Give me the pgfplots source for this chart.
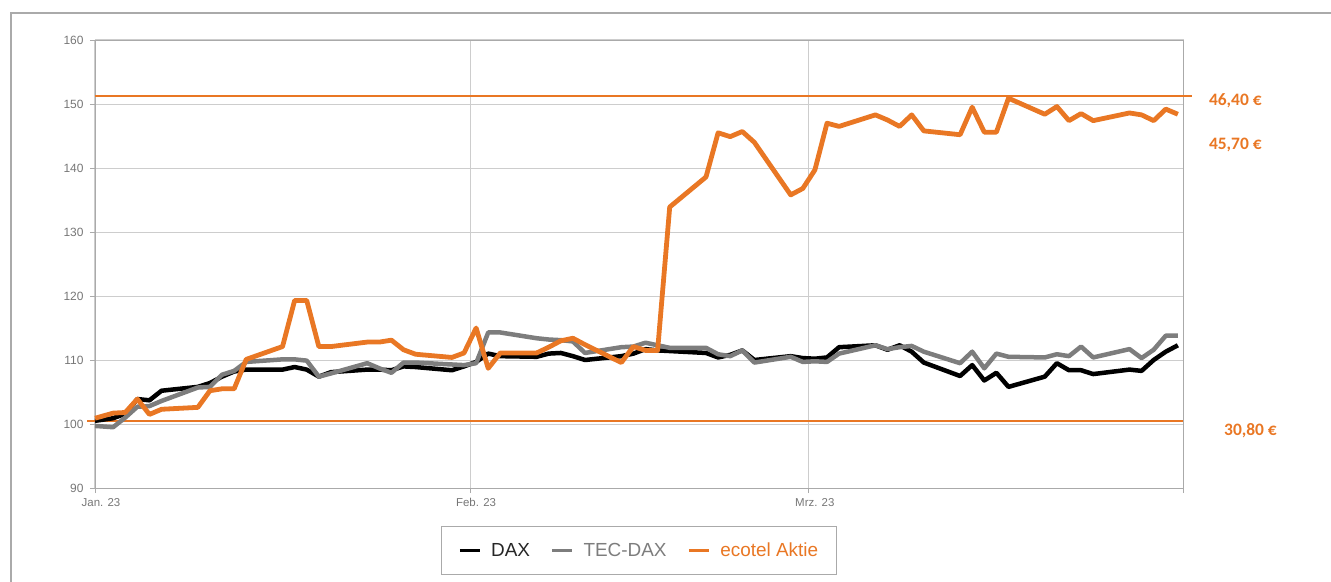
\documentclass[border=0pt]{standalone}
\usepackage{fontspec}
\setmainfont{Liberation Sans}
\newfontfamily\carlito{Carlito}
\usepackage{pgfplots}
\usepackage{pgfplotstable}
\pgfplotsset{compat=1.18}
\definecolor{eco}{RGB}{233,119,36}
\definecolor{tec}{RGB}{125,125,125}
\definecolor{dax}{RGB}{0,0,0}
\definecolor{tickgray}{RGB}{118,118,118}
\definecolor{gridc}{RGB}{205,205,205}
\definecolor{axisc}{RGB}{170,170,170}
\pgfplotstableread{
x dax tec eco
0 100.5 99.7 100.9
1.5 100.9 99.5 101.7
2.5 101.6 101.0 101.8
3.5 103.9 102.7 103.9
4.5 103.7 102.8 101.5
5.5 105.2 103.6 102.3
8.5 105.8 105.7 102.6
9.5 106.4 105.8 105.2
10.5 107.4 107.7 105.5
11.5 108.2 108.3 105.5
12.5 108.5 109.7 110.1
15.5 108.5 110.1 112.1
16.5 108.9 110.1 119.3
17.5 108.5 109.9 119.3
18.5 107.4 107.4 112.1
19.5 108.1 107.9 112.1
22.5 108.5 109.5 112.8
23.5 108.5 108.7 112.8
24.5 108.4 108.0 113.1
25.5 109.0 109.6 111.6
26.5 108.9 109.6 110.9
29.5 108.4 109.3 110.4
30.5 109.0 109.2 111.1
31.5 109.7 109.5 115.0
32.5 111.0 114.3 108.7
33.5 110.6 114.3 111.1
36.5 110.5 113.4 111.1
37.5 111.0 113.2 112.0
38.5 111.1 113.1 113.0
39.5 110.6 112.9 113.4
40.5 110.0 111.1 112.4
43.5 110.6 112.0 109.6
44.5 111.0 112.1 112.1
45.5 111.7 112.7 111.5
46.5 111.5 112.3 111.5
47.5 111.4 111.9 133.9
50.5 111.1 111.9 138.6
51.5 110.4 110.9 145.5
52.5 110.8 110.6 144.9
53.5 111.5 111.5 145.7
54.5 110.0 109.6 144.0
57.5 110.6 110.5 135.8
58.5 110.3 109.7 136.8
59.5 110.2 109.8 139.7
60.5 110.4 109.7 147.0
61.5 112.0 111.0 146.5
64.5 112.3 112.3 148.3
65.5 111.6 111.7 147.5
66.5 112.3 112.0 146.5
67.5 111.3 112.2 148.3
68.5 109.6 111.3 145.8
71.5 107.5 109.5 145.2
72.5 109.2 111.3 149.5
73.5 106.8 108.7 145.6
74.5 108.0 111.0 145.6
75.5 105.8 110.5 150.9
78.5 107.4 110.4 148.4
79.5 109.5 110.9 149.6
80.5 108.4 110.6 147.4
81.5 108.4 112.1 148.5
82.5 107.8 110.4 147.4
85.5 108.5 111.7 148.6
86.5 108.3 110.3 148.3
87.5 110.0 111.6 147.4
88.5 111.3 113.8 149.2
89.5 112.3 113.8 148.4
}\data
\begin{document}
\begin{tikzpicture}
\useasboundingbox (-95bp,-94bp) rectangle (1236bp,488bp);
\draw[axisc, line width=1.3bp] (-84bp,-120bp) -- (-84bp,475bp) -- (1300bp,475bp);
\begin{axis}[
  at={(0,0)}, anchor=south west,
  scale only axis, width=1089bp, height=448bp,
  xmin=0, xmax=90, ymin=90, ymax=160,
  clip=false,
  axis line style={axisc, line width=0.9bp},
  xtick={0,31,59,90}, xticklabels={Jan. 23,Feb. 23,Mrz. 23,{}},
  ytick={90,100,...,160},
  xtick pos=bottom, ytick pos=left,
  tick align=outside, major tick length=5bp,
  tick style={axisc, line width=0.9bp},
  xmajorgrids, ymajorgrids,
  grid style={gridc, line width=1bp},
  /pgf/number format/assume math mode=true,
  ticklabel style={font=\fontsize{12}{14}\selectfont, text=tickgray},
  xticklabel style={xshift=6bp, yshift=-2bp, font=\fontsize{11.5}{13}\selectfont},
  yticklabel style={xshift=-3bp},
  legend style={at={(0.4995,-0.1395)}, anchor=center, draw=axisc, line width=1bp,
    font=\fontsize{19}{22}\selectfont, inner xsep=16bp, inner ysep=14bp,
    /tikz/every even column/.append style={column sep=18bp}},
  legend columns=3,
  legend image code/.code={\draw[#1, line width=3bp, line cap=butt] (0bp,0bp) -- (20bp,0bp); \path (0bp,0bp) (27bp,0bp);},
  every axis plot/.append style={line join=round},
]
\addplot[eco, line width=2bp, forget plot] coordinates {(0,151.2) (90.7,151.2)};
\addplot[eco, line width=2bp, forget plot] coordinates {(-0.66,100.4) (89.9,100.4)};
\addplot[dax, line width=4.5bp] table[x=x, y=dax] {\data};
\addlegendentry{\textcolor{dax!85}{DAX}}
\addplot[tec, line width=4.5bp] table[x=x, y=tec] {\data};
\addlegendentry{\textcolor{tec}{TEC-DAX}}
\addplot[eco, line width=4.8bp] table[x=x, y=eco] {\data};
\addlegendentry{\textcolor{eco}{ecotel Aktie}}
\node[text=eco, font=\carlito\bfseries\fontsize{17.5}{20}\selectfont] at (axis cs:94.25,150.5) {46,40 €};
\node[text=eco, font=\carlito\bfseries\fontsize{17.5}{20}\selectfont] at (axis cs:94.25,143.6) {45,70 €};
\node[text=eco, font=\carlito\bfseries\fontsize{17.5}{20}\selectfont] at (axis cs:95.5,98.9) {30,80 €};
\end{axis}
\end{tikzpicture}
\end{document}
